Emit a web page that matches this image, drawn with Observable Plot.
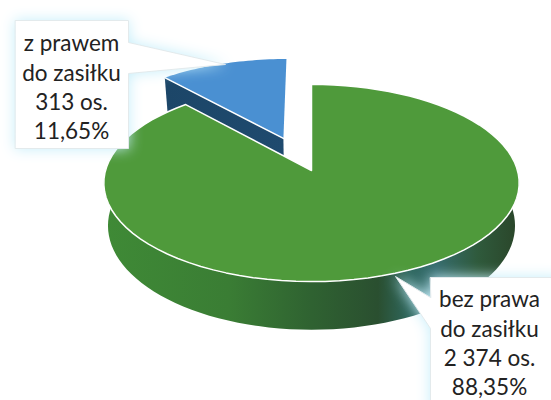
<!DOCTYPE html>
<html>
<head>
<meta charset="utf-8">
<style>html,body{margin:0;padding:0;background:#fff;overflow:hidden}svg{display:block}</style>
<script src="https://cdn.jsdelivr.net/npm/d3@7"></script>
<script src="https://cdn.jsdelivr.net/npm/@observablehq/plot@0.6"></script>
</head>
<body>
<div id="chart"></div>
<script>
const categories = ["bez prawa do zasiłku", "z prawem do zasiłku"];
const counts = [2374, 313];
const labels = ["bez prawa\ndo zasiłku\n2 374 os.\n88,35%", "z prawem\ndo zasiłku\n313 os.\n11,65%"];

// projection of the tilted 3D disc onto the page
const view = {cx: 311, cy: 170, rx: 206, ry: 97, k: 0.127, depth: 42, taper: 0.98, explode: 0.37};
const total = d3.sum(counts);
const share = counts.map(c => c / total);
const project = (u, v) => {
  const w = 1 + view.k * v;
  return {x: view.cx + view.rx * u / w, y: view.cy - view.ry * v / w, w};
};
const lower = p => ({x: view.cx + (p.x - view.cx) * view.taper, y: p.y + view.depth / p.w});
const turn = 2 * Math.PI;
const arc = (a0, a1, off = [0, 0], n = 90) =>
  d3.range(n + 1).map(i => {
    const a = a0 + (a1 - a0) * i / n;
    return project(off[0] + Math.sin(a), off[1] + Math.cos(a));
  });

// slice angles, clockwise from the top
const a1 = share[0] * turn;
const mid = a1 + share[1] * turn / 2;
const off = [view.explode * Math.sin(mid) - 0.01, view.explode * Math.cos(mid)];

const greenTop = [project(0, 0), ...arc(0, a1)];
const blueArc = arc(a1, turn, off, 30);
const blueApex = project(off[0], off[1]);
const blueTop = [blueApex, ...blueArc];
const blueEdge = [blueArc[0], blueApex];
const blueSide = [...blueEdge, ...blueEdge.map(lower).reverse()];
const front = arc(turn / 6, turn * 5 / 6);
const greenSide = [...front, ...front.map(lower).reverse()];

const boxA = [{x:15,y:20},{x:128,y:20},{x:128,y:42},{x:225,y:64},{x:128,y:73},{x:128,y:148},{x:15,y:148}];
const boxB = [{x:430,y:277},{x:560,y:277},{x:560,y:410},{x:430,y:410},{x:430,y:328},{x:395,y:276},{x:430,y:297}];
const glow = "drop-shadow(0 0 7px #c6eefa)";
const poly = (data, o) => Plot.line(data, {x: "x", y: "y", curve: "linear-closed", ...o});
const font = {fontFamily: "Lato, 'Open Sans', sans-serif", fontSize: 22.5, lineHeight: 1.3, fill: "#222", lineAnchor: "top"};

const plot = Plot.plot({
  width: 551, height: 400, margin: 0,
  x: {axis: null, domain: [0, 551], range: [0, 551]},
  y: {axis: null, domain: [0, 400], range: [0, 400]},
  style: {background: "#fff"},
  marks: [
    poly(blueSide, {fill: "url(#blueSide)", stroke: "none"}),
    poly(blueTop, {fill: "#4a90d2", stroke: "none"}),
    Plot.line(blueEdge, {x: "x", y: "y", stroke: "#fff", strokeWidth: 1.5}),
    poly(greenSide, {fill: "url(#greenSide)", stroke: "none"}),
    poly(greenTop, {fill: "#4f9a3b", stroke: "#fff", strokeWidth: 1.5}),
    poly(boxA, {fill: "#fff", stroke: "#e3eaec", strokeWidth: 1, imageFilter: glow}),
    poly(boxB, {fill: "#fff", stroke: "#e3eaec", strokeWidth: 1, imageFilter: glow}),
    Plot.text([labels[1]], {...font, text: d => d, x: () => 71, y: () => 30}),
    Plot.text([labels[0]], {...font, text: d => d, x: () => 489, y: () => 286})
  ]
});

const defs = d3.select(plot).insert("defs", ":first-child");
const grad = (id, stops) => {
  const g = defs.append("linearGradient").attr("id", id).attr("x1", 0).attr("x2", 1).attr("y1", 0).attr("y2", 0);
  stops.forEach(([o, c]) => g.append("stop").attr("offset", o).attr("stop-color", c));
};
grad("greenSide", [[0, "#3f8a36"], [0.3, "#3a7d34"], [0.5, "#2f6231"], [0.66, "#2a4f30"], [0.74, "#2f6860"], [0.8, "#366c6e"], [0.9, "#2f5a3c"], [1, "#2a4529"]]);
grad("blueSide", [[0, "#1c4668"], [1, "#1f4a6e"]]);
document.getElementById("chart").append(plot);
</script>
</body>
</html>
